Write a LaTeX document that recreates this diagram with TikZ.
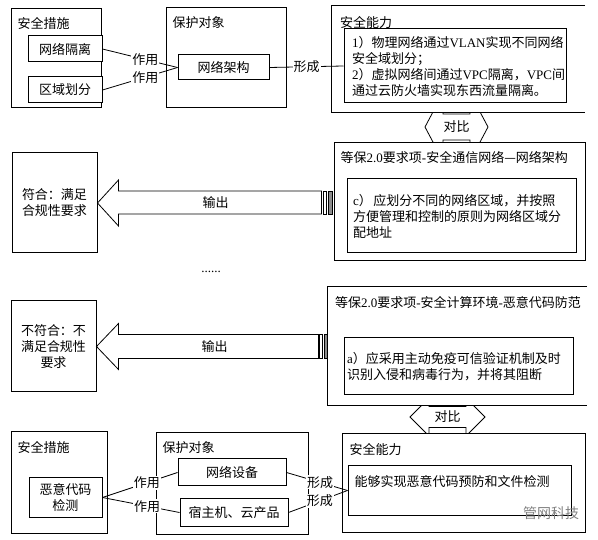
\documentclass[tikz,border=0pt]{standalone}
\usepackage{fontspec}
\setmainfont{Noto Sans CJK SC}
\newfontfamily\latinfont{Liberation Serif}
\newcommand{\tnr}[1]{{\latinfont #1}}
\usepackage{tikz}
\usetikzlibrary{backgrounds,calc}

\begin{document}
\begin{tikzpicture}[
    x=1pt, y=-1pt,
    font=\fontsize{13}{16}\selectfont,
    grp/.style={draw, line width=1pt, fill=white, inner sep=0pt},
    item/.style={draw, line width=1pt, fill=white, inner sep=0pt, align=center},
    para/.style={draw, line width=1pt, fill=white, inner ysep=0pt, align=left},
    ttl/.style={anchor=west, inner sep=0pt},
    lbl/.style={fill=white, inner sep=1pt},
    link/.style={line width=0.8pt},
    blk/.style={draw, line width=0.8pt, line join=miter}
]
\useasboundingbox (0,0) rectangle (598,540);

% top row: measures -> object -> capability
\node[grp, minimum width=90pt, minimum height=99pt] (cs1) at (56,58.5) {};
\node[ttl] (cs1t) at ([shift={(7,15)}]cs1.north west) {安全措施};
\node[item, minimum width=74pt, minimum height=26pt] (gl1) at (65,49) {网络隔离};
\node[item, minimum width=74pt, minimum height=26pt] (hf1) at (65,90) {区域划分};

\node[grp, minimum width=120pt, minimum height=100pt] (dx1) at (226,58) {};
\node[ttl] (dx1t) at ([shift={(7,15)}]dx1.north west) {保护对象};
\node[item, minimum width=91pt, minimum height=25pt] (jg1) at (223.5,67.5) {网络架构};

\node[fill=white, inner sep=0pt, minimum width=253pt, minimum height=106pt] (nl1) at (458.5,59) {};
\draw[line width=1pt] (nl1.north east) -- (nl1.north west) -- (nl1.south west) -- (nl1.south east);
\node[ttl] (nl1t) at ([shift={(8,17)}]nl1.north west) {安全能力};
\node[para, minimum width=222pt, minimum height=74pt, inner xsep=8pt, text width=206pt] (nlt1) at (455,66)
    {\tnr{1}）物理网络通过\tnr{VLAN}实现不同网络\\安全域划分；\\
     \tnr{2}）虚拟网络间通过\tnr{VPC}隔离，\tnr{VPC}间\\通过云防火墙实现东西流量隔离。};

\draw[link] (gl1.east) -- node[lbl, pos=0.57] (zy1) {作用} (jg1.west);
\draw[link] (hf1.east) -- node[lbl, pos=0.57] (zy2) {作用} (jg1.west);
\draw[link] (jg1.east) -- node[lbl] (xc1) {形成} (nlt1.west);

% compliant case
\node[item, minimum width=85pt, minimum height=100pt] (fh1) at (54.5,203) {符合：满足\\合规性要求};
\node[grp, minimum width=251pt, minimum height=118pt] (db1) at (459.5,202) {};
\node[ttl] (db1t) at ([shift={(7,15)}]db1.north west)
    {等保\tnr{2.0}要求项\tnr{-}安全通信网络—网络架构};
\node[para, minimum width=229pt, minimum height=74pt, inner xsep=6pt, text width=217pt] (dbt1) at (461.5,216)
    {\tnr{c}）\hspace{1.5pt}应划分不同的网络区域，并按照\\方便管理和控制的原则为网络区域分\\配地址};

\draw[blk] (fh1.east) -- ++(21,-23) -- ++(0,11) -- ++(203,0) -- ++(0,23)
    -- ++(-203,0) -- ++(0,12) -- cycle;
\draw[blk] (323,191) rectangle (326,214);
\draw[blk, fill=black!45] (328,191) rectangle (332,214);
\node (sc1) at ($(fh1.east)+(118,0)$) {输出};

\node (dots) at (211,272) {\tnr{......}};

% non-compliant case
\node[item, minimum width=85pt, minimum height=91pt] (bfh) at (53.5,346.5) {不符合：不\\满足合规性\\要求};
\node[fill=white, inner sep=0pt, minimum width=259pt, minimum height=118pt] (db2) at (457.5,346) {};
\draw[line width=1pt] (db2.north east) -- (db2.north west) -- (db2.south west) -- (db2.south east);
\node[ttl] (db2t) at ([shift={(7,16)}]db2.north west)
    {等保\tnr{2.0}要求项\tnr{-}安全计算环境\tnr{-}恶意代码防范};
\node[para, minimum width=229pt, minimum height=57pt, inner xsep=3pt, text width=223pt] (dbt2) at (458.5,366.5)
    {\tnr{a}）应采用主动免疫可信验证机制及时\\识别入侵和病毒行为，并将其阻断};

\draw[blk] (bfh.east) -- ++(22,-23) -- ++(0,11) -- ++(200,0) -- ++(0,24)
    -- ++(-200,0) -- ++(0,11) -- cycle;
\draw[blk] (319.5,334.5) rectangle (322,358.5);
\draw[blk, fill=black!45] (324,334.5) rectangle (327.5,358.5);
\node (sc2) at ($(bfh.east)+(118,0)$) {输出};

% bottom row: measures -> objects -> capability
\node[grp, minimum width=96pt, minimum height=101pt] (cs2) at (59,482.5) {};
\node[ttl] (cs2t) at ([shift={(7,16)}]cs2.north west) {安全措施};
\node[item, minimum width=73pt, minimum height=39pt] (jc2) at (65.5,497.5) {恶意代码\\检测};

\node[grp, minimum width=152pt, minimum height=101pt] (dx2) at (232,483.5) {};
\node[ttl] (dx2t) at ([shift={(7,15)}]dx2.north west) {保护对象};
\node[item, minimum width=108pt, minimum height=27pt] (sb2) at (232,472.5) {网络设备};
\node[item, minimum width=108pt, minimum height=27pt] (zj2) at (234,512.5) {宿主机、云产品};

\node[grp, minimum width=243pt, minimum height=98pt] (nl2) at (463.5,483) {};
\node[ttl] (nl2t) at ([shift={(8,16)}]nl2.north west) {安全能力};
\node[item, minimum width=223pt, minimum height=49pt] (nlt2) at (459.5,490.5) {};
\node[ttl] (nlt2x) at ([shift={(7,16)}]nlt2.north west) {能够实现恶意代码预防和文件检测};

\draw[link] (jc2.east) -- node[lbl, pos=0.59] (zy3) {作用} (sb2.west);
\draw[link] (jc2.east) -- node[lbl, pos=0.58] (zy4) {作用} (zj2.west);
\draw[link] (sb2.east) -- node[lbl, pos=0.55] (xc2) {形成} (nlt2.west);
\draw[link] (zj2.east) -- node[lbl, pos=0.53] (xc3) {形成} (nlt2.west);

\node[text=black!50, font=\fontsize{14}{16}\selectfont] (wm) at (551,513) {管网科技};

% comparison arrows, behind the boxes
\node (db1c) at (456.5,127) {对比};
\node (db2c) at (447.5,417) {对比};
\begin{scope}[on background layer]
    \fill[white] (0,0) rectangle (598,540);
    \draw[blk, fill=white] (425,127) -- (443,93) -- (443,114) -- (470,114) -- (470,93) -- (488,127)
        -- (470,161) -- (470,140) -- (443,140) -- (443,161) -- cycle;
    \draw[blk, fill=white] (410,417) -- (429,398) -- (429,406.5) -- (466,406.5) -- (466,398) -- (485,417)
        -- (466,436) -- (466,427.5) -- (429,427.5) -- (429,436) -- cycle;
\end{scope}
\end{tikzpicture}
\end{document}
